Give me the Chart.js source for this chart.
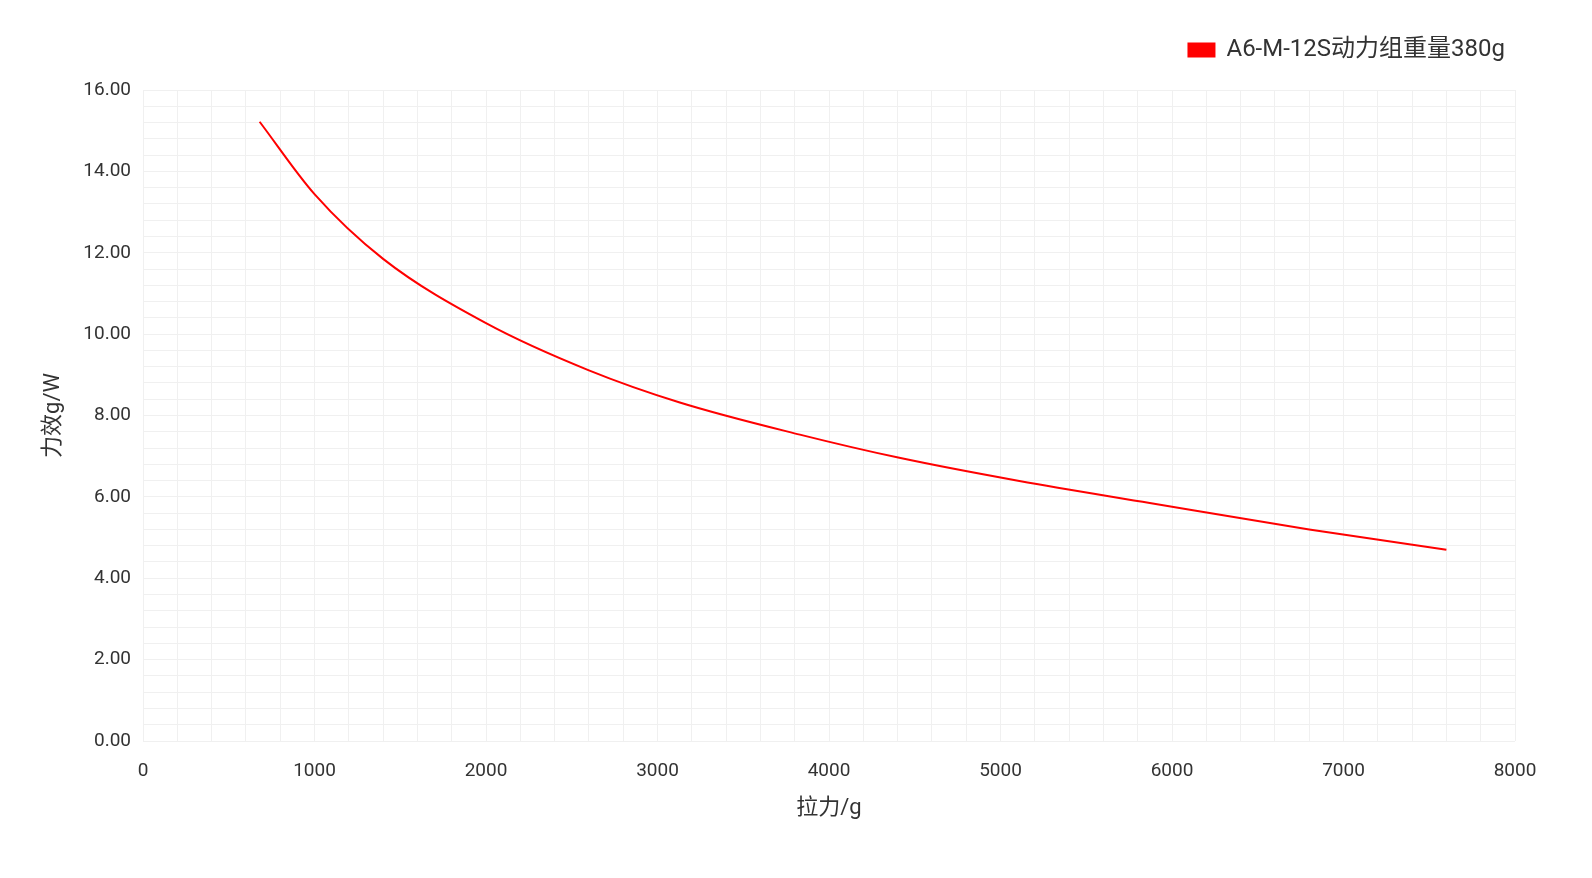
<!DOCTYPE html>
<html>
<head>
<meta charset="utf-8">
<script src="https://cdn.jsdelivr.net/npm/chart.js@4"></script>
<style>
  html, body { margin: 0; padding: 0; background: #fff; }
  #wrap { width: 1592px; height: 878px; }
</style>
</head>
<body>
<div id="wrap"><canvas id="chart" width="1592" height="878"></canvas></div>
<script>
// 拉力 (g) and 力效 (g/W)
const thrust = [680, 1000, 1400, 2000, 2600, 3130, 3830, 4410, 5110, 5870, 6800, 7600];
const efficiency = [15.22, 13.44, 11.85, 10.27, 9.11, 8.32, 7.53, 6.96, 6.39, 5.85, 5.20, 4.70];
const seriesName = 'A6-M-12S动力组重量380g';
const xTitle = '拉力/g';
const yTitle = '力效g/W';

const fontFamily = 'Roboto, "Noto Sans CJK SC", sans-serif';
const textColor = '#333333';
const gridColor = '#f0f0f0';

// extra space under the legend
const legendGap = {
  id: 'legendGap',
  beforeLayout(chart) {
    const lg = chart.legend;
    if (lg && !lg._gapPatched) {
      const fit = lg.fit;
      lg.fit = function () {
        fit.call(this);
        this.height += 18;
      };
      lg._gapPatched = true;
    }
  }
};

const ctx = document.getElementById('chart').getContext('2d');
new Chart(ctx, {
  type: 'line',
  data: {
    datasets: [{
      label: seriesName,
      data: thrust.map((t, i) => ({ x: t, y: efficiency[i] })),
      borderColor: '#ff0000',
      backgroundColor: '#ff0000',
      borderWidth: 2,
      pointRadius: 0,
      cubicInterpolationMode: 'monotone',
      fill: false
    }]
  },
  plugins: [legendGap],
  options: {
    responsive: false,
    animation: false,
    layout: {
      padding: { top: 28, right: 77, bottom: 50, left: 0 }
    },
    plugins: {
      legend: {
        display: true,
        position: 'top',
        align: 'end',
        labels: {
          boxWidth: 26,
          boxHeight: 13,
          color: textColor,
          font: { family: fontFamily, size: 24 }
        }
      },
      tooltip: { enabled: false }
    },
    scales: {
      x: {
        type: 'linear',
        min: 0,
        max: 8000,
        afterFit: (scale) => { scale.height = 87; },
        border: { display: false },
        grid: { color: gridColor, drawTicks: false },
        ticks: {
          stepSize: 200,
          autoSkip: false,
          maxRotation: 0,
          padding: 19,
          color: textColor,
          font: { family: fontFamily, size: 19 },
          callback: (v) => (v % 1000 === 0 ? String(v) : '')
        },
        title: {
          display: true,
          text: xTitle,
          color: textColor,
          padding: { top: 4, bottom: 6 },
          font: { family: fontFamily, size: 22 }
        }
      },
      y: {
        min: 0,
        max: 16,
        afterFit: (scale) => { scale.width = 143; },
        border: { display: false },
        grid: { color: gridColor, drawTicks: false },
        ticks: {
          stepSize: 0.4,
          autoSkip: false,
          padding: 12,
          color: textColor,
          font: { family: fontFamily, size: 19 },
          callback: (v) => {
            const half = v / 2;
            return Math.abs(half - Math.round(half)) < 1e-6 ? Number(v).toFixed(2) : '';
          }
        },
        title: {
          display: true,
          text: yTitle,
          color: textColor,
          padding: { top: 40, bottom: 0 },
          font: { family: fontFamily, size: 22 }
        }
      }
    }
  }
});
</script>
</body>
</html>
